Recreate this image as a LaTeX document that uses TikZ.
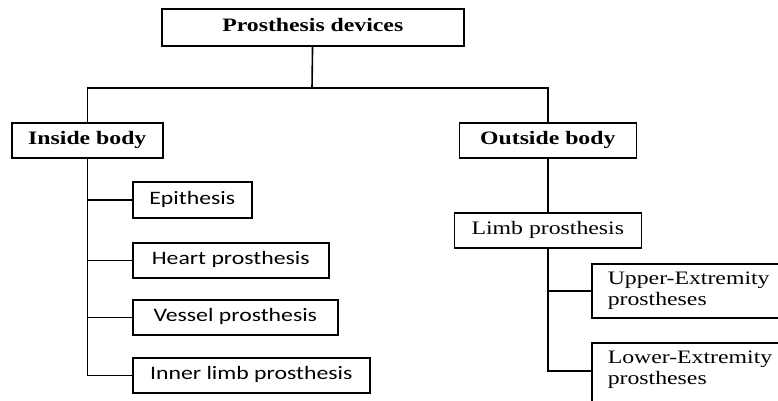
\documentclass[tikz,border=0pt]{standalone}
\usepackage{fontspec}
\setmainfont[FakeStretch=1.25]{Liberation Serif}
\newfontfamily\calfont[FakeStretch=1.25]{Carlito}

\begin{document}
\begin{tikzpicture}[x=1pt, y=-1pt, line width=1.6pt,
    box/.style = {draw, inner sep=0pt, anchor=north west, font=\fontsize{19}{21}\selectfont,
                  text height=13pt, text depth=4pt, minimum height=35pt},
    head/.style = {box, font=\fontsize{19}{21}\selectfont\bfseries},
    leaf/.style = {box, font=\fontsize{19}{21}\selectfont\calfont},
    limbs/.style = {draw, anchor=north west, align=left, text width=184pt, inner xsep=16pt,
                    inner ysep=0pt, minimum height=54pt, font=\fontsize{19}{21}\selectfont}]
    \useasboundingbox (0,0) rectangle (778,400);
    \clip (0,0) rectangle (778,400);

    \node[head, minimum width=302pt, minimum height=37pt] (root) at (161,8) {Prosthesis devices};
    \node[head, minimum width=151pt] (inside) at (11,122) {Inside body};
    \node[head, minimum width=177pt] (outside) at (458.5,122) {Outside body};

    \node[leaf, minimum width=119pt, minimum height=36pt] (epi) at (132,181) {Epithesis};
    \node[leaf, minimum width=196pt] (heart) at (132,242) {Heart prosthesis};
    \node[leaf, minimum width=205pt] (vessel) at (132,299) {Vessel prosthesis};
    \node[leaf, minimum width=237pt] (inner) at (132,357) {Inner limb prosthesis};

    \node[box, minimum width=187pt] (limb) at (453.5,212) {Limb prosthesis};
    \node[limbs] (upper) at (591,263) {Upper-Extremity\\prostheses};
    \node[limbs, minimum height=64pt] (lower) at (591,342) {Lower-Extremity\\prostheses\\[-6pt]\mbox{}};

    \coordinate (bus) at (312,88);
    \draw (root) -- (bus);
    \draw (inside) |- (bus) -| (outside);

    \draw (inside) |- (inner);
    \foreach \n in {epi, heart, vessel}
        \draw (inside.south |- \n) -- (\n);

    \draw (outside) -- (limb);
    \draw (limb) |- ([yshift=4pt]lower.west);
    \draw (limb.south |- upper) -- (upper);
\end{tikzpicture}
\end{document}
